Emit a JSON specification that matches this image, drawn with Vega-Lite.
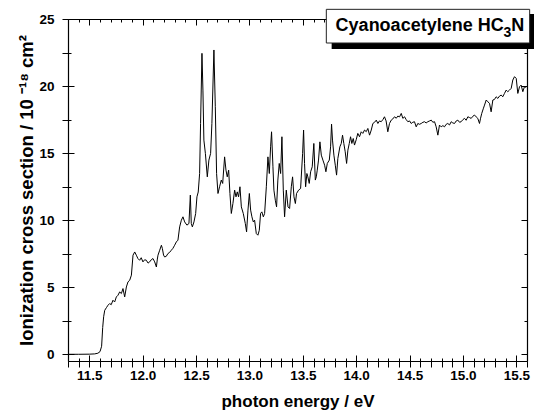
{
  "$schema": "https://vega.github.io/schema/vega-lite/v6.json",
  "width": 459,
  "height": 342,
  "autosize": {"type": "none"},
  "padding": {"left": 68, "top": 19, "right": 7, "bottom": 52},
  "background": "white",
  "config": {
    "view": {"stroke": null}
  },
  "data": {"values": [
      {"energy": 11.30, "sigma": 0.00}, {"energy": 11.40, "sigma": 0.00}, {"energy": 11.50, "sigma": 0.01},
      {"energy": 11.55, "sigma": 0.03}, {"energy": 11.58, "sigma": 0.08}, {"energy": 11.60, "sigma": 0.20},
      {"energy": 11.615, "sigma": 0.6}, {"energy": 11.625, "sigma": 2.0}, {"energy": 11.634, "sigma": 2.8},
      {"energy": 11.644, "sigma": 3.28}, {"energy": 11.66, "sigma": 3.48}, {"energy": 11.675, "sigma": 3.66},
      {"energy": 11.69, "sigma": 3.78}, {"energy": 11.705, "sigma": 3.70}, {"energy": 11.721, "sigma": 4.03},
      {"energy": 11.737, "sigma": 3.90}, {"energy": 11.753, "sigma": 4.28}, {"energy": 11.768, "sigma": 4.40},
      {"energy": 11.784, "sigma": 4.65}, {"energy": 11.80, "sigma": 4.53}, {"energy": 11.815, "sigma": 4.90},
      {"energy": 11.831, "sigma": 4.28}, {"energy": 11.847, "sigma": 5.02}, {"energy": 11.862, "sigma": 5.40},
      {"energy": 11.878, "sigma": 5.52}, {"energy": 11.894, "sigma": 5.90}, {"energy": 11.909, "sigma": 7.39},
      {"energy": 11.925, "sigma": 7.63}, {"energy": 11.940, "sigma": 7.39}, {"energy": 11.955, "sigma": 7.14},
      {"energy": 11.971, "sigma": 7.01}, {"energy": 11.986, "sigma": 7.20}, {"energy": 12.002, "sigma": 6.89},
      {"energy": 12.018, "sigma": 7.05}, {"energy": 12.034, "sigma": 7.01}, {"energy": 12.05, "sigma": 6.80},
      {"energy": 12.065, "sigma": 6.89}, {"energy": 12.08, "sigma": 7.05}, {"energy": 12.096, "sigma": 7.14},
      {"energy": 12.112, "sigma": 6.89}, {"energy": 12.128, "sigma": 6.51}, {"energy": 12.137, "sigma": 7.10},
      {"energy": 12.143, "sigma": 7.39}, {"energy": 12.159, "sigma": 7.76}, {"energy": 12.175, "sigma": 8.13},
      {"energy": 12.184, "sigma": 7.89}, {"energy": 12.195, "sigma": 7.40}, {"energy": 12.205, "sigma": 7.26},
      {"energy": 12.22, "sigma": 7.30}, {"energy": 12.236, "sigma": 7.51}, {"energy": 12.252, "sigma": 7.60},
      {"energy": 12.268, "sigma": 7.76}, {"energy": 12.283, "sigma": 7.90}, {"energy": 12.299, "sigma": 8.13},
      {"energy": 12.315, "sigma": 8.38}, {"energy": 12.330, "sigma": 8.51}, {"energy": 12.346, "sigma": 9.50},
      {"energy": 12.362, "sigma": 10.0}, {"energy": 12.377, "sigma": 10.25}, {"energy": 12.393, "sigma": 9.87},
      {"energy": 12.414, "sigma": 9.63}, {"energy": 12.433, "sigma": 9.75}, {"energy": 12.446, "sigma": 11.87},
      {"energy": 12.455, "sigma": 9.75}, {"energy": 12.465, "sigma": 9.50}, {"energy": 12.480, "sigma": 9.87},
      {"energy": 12.496, "sigma": 10.50}, {"energy": 12.508, "sigma": 11.74}, {"energy": 12.520, "sigma": 12.1},
      {"energy": 12.533, "sigma": 13.48}, {"energy": 12.542, "sigma": 17.2}, {"energy": 12.555, "sigma": 22.44},
      {"energy": 12.564, "sigma": 19.70}, {"energy": 12.573, "sigma": 15.97}, {"energy": 12.587, "sigma": 14.98},
      {"energy": 12.605, "sigma": 13.23}, {"energy": 12.620, "sigma": 14.48}, {"energy": 12.636, "sigma": 14.98},
      {"energy": 12.648, "sigma": 17.21}, {"energy": 12.667, "sigma": 22.69}, {"energy": 12.680, "sigma": 18.46},
      {"energy": 12.692, "sigma": 13.48}, {"energy": 12.705, "sigma": 11.99}, {"energy": 12.720, "sigma": 12.49},
      {"energy": 12.736, "sigma": 12.99}, {"energy": 12.749, "sigma": 12.74}, {"energy": 12.767, "sigma": 14.72},
      {"energy": 12.780, "sigma": 13.73}, {"energy": 12.792, "sigma": 13.23}, {"energy": 12.805, "sigma": 13.73},
      {"energy": 12.817, "sigma": 11.99}, {"energy": 12.830, "sigma": 10.50}, {"energy": 12.845, "sigma": 11.24},
      {"energy": 12.861, "sigma": 12.24}, {"energy": 12.874, "sigma": 11.74}, {"energy": 12.886, "sigma": 12.11},
      {"energy": 12.898, "sigma": 11.74}, {"energy": 12.911, "sigma": 12.49}, {"energy": 12.924, "sigma": 10.99},
      {"energy": 12.942, "sigma": 10.50}, {"energy": 12.961, "sigma": 9.75}, {"energy": 12.973, "sigma": 9.13},
      {"energy": 12.986, "sigma": 10.75}, {"energy": 12.999, "sigma": 11.99}, {"energy": 13.011, "sigma": 10.75},
      {"energy": 13.023, "sigma": 10.25}, {"energy": 13.036, "sigma": 9.87}, {"energy": 13.048, "sigma": 10.0},
      {"energy": 13.064, "sigma": 9.0}, {"energy": 13.079, "sigma": 8.88}, {"energy": 13.092, "sigma": 9.25},
      {"energy": 13.104, "sigma": 10.50}, {"energy": 13.116, "sigma": 10.62}, {"energy": 13.130, "sigma": 10.25},
      {"energy": 13.142, "sigma": 10.50}, {"energy": 13.158, "sigma": 12.49}, {"energy": 13.173, "sigma": 14.72},
      {"energy": 13.186, "sigma": 13.48}, {"energy": 13.198, "sigma": 15.47}, {"energy": 13.207, "sigma": 16.59},
      {"energy": 13.220, "sigma": 13.98}, {"energy": 13.229, "sigma": 12.24}, {"energy": 13.242, "sigma": 11.49},
      {"energy": 13.254, "sigma": 10.99}, {"energy": 13.266, "sigma": 12.99}, {"energy": 13.279, "sigma": 14.23},
      {"energy": 13.292, "sigma": 13.48}, {"energy": 13.304, "sigma": 16.22}, {"energy": 13.317, "sigma": 12.24},
      {"energy": 13.329, "sigma": 10.25}, {"energy": 13.345, "sigma": 12.24}, {"energy": 13.361, "sigma": 10.99},
      {"energy": 13.376, "sigma": 10.87}, {"energy": 13.392, "sigma": 12.49}, {"energy": 13.404, "sigma": 13.23},
      {"energy": 13.417, "sigma": 11.74}, {"energy": 13.430, "sigma": 11.24}, {"energy": 13.441, "sigma": 11.99},
      {"energy": 13.460, "sigma": 12.24}, {"energy": 13.479, "sigma": 12.36}, {"energy": 13.498, "sigma": 14.98},
      {"energy": 13.507, "sigma": 16.72}, {"energy": 13.516, "sigma": 14.23}, {"energy": 13.526, "sigma": 12.49},
      {"energy": 13.538, "sigma": 13.48}, {"energy": 13.547, "sigma": 13.23}, {"energy": 13.560, "sigma": 12.74},
      {"energy": 13.573, "sigma": 13.61}, {"energy": 13.588, "sigma": 13.98}, {"energy": 13.603, "sigma": 15.72},
      {"energy": 13.617, "sigma": 12.99}, {"energy": 13.626, "sigma": 13.23}, {"energy": 13.635, "sigma": 13.73},
      {"energy": 13.647, "sigma": 14.48}, {"energy": 13.660, "sigma": 15.84}, {"energy": 13.673, "sigma": 14.85},
      {"energy": 13.688, "sigma": 14.48}, {"energy": 13.704, "sigma": 14.10}, {"energy": 13.716, "sigma": 13.61},
      {"energy": 13.729, "sigma": 14.23}, {"energy": 13.748, "sigma": 14.48}, {"energy": 13.760, "sigma": 15.47},
      {"energy": 13.769, "sigma": 17.16}, {"energy": 13.778, "sigma": 15.97}, {"energy": 13.791, "sigma": 14.85},
      {"energy": 13.804, "sigma": 14.10}, {"energy": 13.816, "sigma": 13.36}, {"energy": 13.828, "sigma": 14.60},
      {"energy": 13.847, "sigma": 15.47}, {"energy": 13.860, "sigma": 15.72}, {"energy": 13.872, "sigma": 16.34},
      {"energy": 13.884, "sigma": 15.72}, {"energy": 13.897, "sigma": 15.10}, {"energy": 13.910, "sigma": 14.23},
      {"energy": 13.922, "sigma": 15.22}, {"energy": 13.935, "sigma": 15.72}, {"energy": 13.947, "sigma": 16.22},
      {"energy": 13.959, "sigma": 15.72}, {"energy": 13.972, "sigma": 16.09}, {"energy": 13.984, "sigma": 15.6},
      {"energy": 14.000, "sigma": 16.0}, {"energy": 14.015, "sigma": 16.47}, {"energy": 14.031, "sigma": 16.22},
      {"energy": 14.047, "sigma": 16.59}, {"energy": 14.062, "sigma": 16.47}, {"energy": 14.078, "sigma": 16.72},
      {"energy": 14.094, "sigma": 16.60}, {"energy": 14.109, "sigma": 16.84}, {"energy": 14.125, "sigma": 16.34},
      {"energy": 14.141, "sigma": 16.72}, {"energy": 14.156, "sigma": 17.21}, {"energy": 14.172, "sigma": 17.30},
      {"energy": 14.188, "sigma": 17.46}, {"energy": 14.203, "sigma": 17.21}, {"energy": 14.218, "sigma": 17.40},
      {"energy": 14.234, "sigma": 17.34}, {"energy": 14.250, "sigma": 17.50}, {"energy": 14.265, "sigma": 17.71},
      {"energy": 14.280, "sigma": 17.40}, {"energy": 14.296, "sigma": 16.59}, {"energy": 14.312, "sigma": 17.21},
      {"energy": 14.328, "sigma": 17.46}, {"energy": 14.343, "sigma": 17.55}, {"energy": 14.359, "sigma": 17.71},
      {"energy": 14.375, "sigma": 17.60}, {"energy": 14.390, "sigma": 17.76}, {"energy": 14.406, "sigma": 17.70},
      {"energy": 14.422, "sigma": 17.96}, {"energy": 14.437, "sigma": 17.59}, {"energy": 14.453, "sigma": 17.71},
      {"energy": 14.468, "sigma": 17.50}, {"energy": 14.484, "sigma": 17.34}, {"energy": 14.500, "sigma": 17.40},
      {"energy": 14.515, "sigma": 17.21}, {"energy": 14.530, "sigma": 17.30}, {"energy": 14.546, "sigma": 17.34},
      {"energy": 14.562, "sigma": 16.96}, {"energy": 14.577, "sigma": 17.21}, {"energy": 14.593, "sigma": 17.15},
      {"energy": 14.609, "sigma": 17.21}, {"energy": 14.625, "sigma": 17.30}, {"energy": 14.640, "sigma": 17.34},
      {"energy": 14.655, "sigma": 17.25}, {"energy": 14.671, "sigma": 17.34}, {"energy": 14.687, "sigma": 17.40},
      {"energy": 14.703, "sigma": 17.46}, {"energy": 14.718, "sigma": 17.30}, {"energy": 14.734, "sigma": 17.34},
      {"energy": 14.749, "sigma": 16.96}, {"energy": 14.765, "sigma": 16.34}, {"energy": 14.780, "sigma": 17.09},
      {"energy": 14.796, "sigma": 16.96}, {"energy": 14.812, "sigma": 17.05}, {"energy": 14.827, "sigma": 16.96},
      {"energy": 14.843, "sigma": 17.15}, {"energy": 14.858, "sigma": 17.21}, {"energy": 14.874, "sigma": 17.10},
      {"energy": 14.890, "sigma": 17.34}, {"energy": 14.905, "sigma": 17.25}, {"energy": 14.921, "sigma": 17.21},
      {"energy": 14.937, "sigma": 17.40}, {"energy": 14.952, "sigma": 17.46}, {"energy": 14.968, "sigma": 17.30},
      {"energy": 14.983, "sigma": 17.34}, {"energy": 15.000, "sigma": 17.50}, {"energy": 15.015, "sigma": 17.59},
      {"energy": 15.030, "sigma": 17.45}, {"energy": 15.046, "sigma": 17.71}, {"energy": 15.062, "sigma": 17.65},
      {"energy": 15.077, "sigma": 17.59}, {"energy": 15.093, "sigma": 17.75}, {"energy": 15.108, "sigma": 17.84},
      {"energy": 15.124, "sigma": 17.70}, {"energy": 15.139, "sigma": 17.59}, {"energy": 15.155, "sigma": 17.21},
      {"energy": 15.165, "sigma": 17.60}, {"energy": 15.176, "sigma": 17.96}, {"energy": 15.190, "sigma": 18.30},
      {"energy": 15.202, "sigma": 18.58}, {"energy": 15.218, "sigma": 18.96}, {"energy": 15.233, "sigma": 18.83},
      {"energy": 15.249, "sigma": 18.71}, {"energy": 15.264, "sigma": 18.08}, {"energy": 15.280, "sigma": 18.96},
      {"energy": 15.295, "sigma": 19.00}, {"energy": 15.311, "sigma": 19.20}, {"energy": 15.327, "sigma": 19.08},
      {"energy": 15.342, "sigma": 19.25}, {"energy": 15.358, "sigma": 19.33}, {"energy": 15.373, "sigma": 19.20},
      {"energy": 15.389, "sigma": 19.45}, {"energy": 15.405, "sigma": 19.70}, {"energy": 15.420, "sigma": 19.58},
      {"energy": 15.436, "sigma": 19.70}, {"energy": 15.452, "sigma": 19.83}, {"energy": 15.467, "sigma": 20.45},
      {"energy": 15.483, "sigma": 20.70}, {"energy": 15.499, "sigma": 20.57}, {"energy": 15.514, "sigma": 19.45},
      {"energy": 15.530, "sigma": 19.95}, {"energy": 15.545, "sigma": 20.07}, {"energy": 15.561, "sigma": 19.58},
      {"energy": 15.576, "sigma": 19.95}, {"energy": 15.592, "sigma": 19.90}
  ]},
  "layer": [
    {
      "mark": {"type": "line", "color": "black", "strokeWidth": 1},
      "encoding": {
        "x": {"field": "energy", "type": "quantitative",
          "scale": {"domain": [11.3, 15.6], "nice": false, "zero": false},
          "axis": {"orient": "bottom",
            "values": [11.3, 11.4, 11.5, 11.6, 11.7, 11.8, 11.9, 12.0, 12.1, 12.2, 12.3, 12.4, 12.5, 12.6, 12.7, 12.8, 12.9, 13.0, 13.1, 13.2, 13.3, 13.4, 13.5, 13.6, 13.7, 13.8, 13.9, 14.0, 14.1, 14.2, 14.3, 14.4, 14.5, 14.6, 14.7, 14.8, 14.9, 15.0, 15.1, 15.2, 15.3, 15.4, 15.5, 15.6],
            "labelExpr": "abs(datum.value * 2 - round(datum.value * 2)) < 0.001 ? format(datum.value, '.1f') : ''",
            "labelOverlap": false, "labelFlush": false,
            "grid": true, "gridColor": "#000000", "gridWidth": 1, "gridOpacity": 1,
            "gridDash": {"condition": {"test": "abs(datum.value * 2 - round(datum.value * 2)) < 0.001", "value": [6, 330]}, "value": [3, 336]},
            "tickColor": "#000000", "tickWidth": 1, "tickSize": 6,
            "domainColor": "#000000", "domainWidth": 1.2,
            "labelFont": "Liberation Sans", "labelFontWeight": "bold", "labelFontSize": 13.5, "labelColor": "black", "labelPadding": 1,
            "title": "photon energy / eV", "titleFont": "Liberation Sans", "titleFontWeight": "bold", "titleFontSize": 17, "titleColor": "black", "titlePadding": 12}},
        "y": {"field": "sigma", "type": "quantitative",
          "scale": {"domain": [-0.5, 25], "nice": false, "zero": false},
          "axis": {"orient": "left", "values": [0, 2.5, 5, 7.5, 10, 12.5, 15, 17.5, 20, 22.5, 25],
            "labelExpr": "datum.value % 5 === 0 ? datum.label : ''",
            "labelOverlap": false, "labelFlush": false,
            "grid": true, "gridColor": "#000000", "gridWidth": 1, "gridOpacity": 1,
            "gridDash": {"condition": {"test": "datum.value % 5 === 0", "value": [6, 447]}, "value": [3, 453]},
            "tickColor": "#000000", "tickWidth": 1, "tickSize": 6,
            "domainColor": "#000000", "domainWidth": 1.2,
            "labelFont": "Liberation Sans", "labelFontWeight": "bold", "labelFontSize": 13.5, "labelColor": "black", "labelPadding": 8,
            "title": "Ionization cross section  /  10 ⁻¹⁸  cm²", "titleFont": "Liberation Sans", "titleFontWeight": "bold", "titleFontSize": 18.5, "titleColor": "black", "titlePadding": 2}}
      }
    },
    {
      "mark": {"type": "point", "opacity": 0},
      "encoding": {
        "x": {"field": "energy", "type": "quantitative",
          "scale": {"domain": [11.3, 15.6], "nice": false, "zero": false},
          "axis": {"orient": "top", "values": [11.5, 12.0, 12.5, 13.0, 13.5, 14.0, 14.5, 15.0, 15.5],
            "grid": false, "ticks": false, "domainColor": "#000000", "domainWidth": 1.2, "labels": false, "title": null}},
        "y": {"field": "sigma", "type": "quantitative",
          "scale": {"domain": [-0.5, 25], "nice": false, "zero": false},
          "axis": {"orient": "right", "values": [0, 5, 10, 15, 20, 25],
            "grid": false, "ticks": false, "domainColor": "#000000", "domainWidth": 1.2, "labels": false, "title": null}}
      }
    },
    {
      "data": {"values": [{"x1": 13.77, "x2": 15.70, "y1": 25.37, "y2": 22.77}]},
      "mark": {"type": "rect", "color": "black"},
      "encoding": {
        "x": {"field": "x1", "type": "quantitative", "axis": null},
        "x2": {"field": "x2"},
        "y": {"field": "y1", "type": "quantitative", "axis": null},
        "y2": {"field": "y2"}
      }
    },
    {
      "data": {"values": [{"x1": 13.72, "x2": 15.625, "y1": 25.72, "y2": 23.21}]},
      "mark": {"type": "rect", "fill": "white", "stroke": "#222222", "strokeWidth": 1},
      "encoding": {
        "x": {"field": "x1", "type": "quantitative", "axis": null},
        "x2": {"field": "x2"},
        "y": {"field": "y1", "type": "quantitative", "axis": null},
        "y2": {"field": "y2"}
      }
    },
    {
      "data": {"values": [{"x": 13.807, "y": 24.13, "text": "Cyanoacetylene HC"}, {"x": 15.453, "y": 24.13, "text": "N"}]},
      "mark": {"type": "text", "font": "Liberation Sans", "fontWeight": "bold", "fontSize": 18, "color": "black", "align": "left", "baseline": "alphabetic"},
      "encoding": {
        "x": {"field": "x", "type": "quantitative", "axis": null},
        "y": {"field": "y", "type": "quantitative", "axis": null},
        "text": {"field": "text"}
      }
    },
    {
      "data": {"values": [{"x": 15.380, "y": 23.68, "text": "3"}]},
      "mark": {"type": "text", "font": "Liberation Sans", "fontWeight": "bold", "fontSize": 14, "color": "black", "align": "left", "baseline": "alphabetic"},
      "encoding": {
        "x": {"field": "x", "type": "quantitative", "axis": null},
        "y": {"field": "y", "type": "quantitative", "axis": null},
        "text": {"field": "text"}
      }
    }
  ],
  "resolve": {"axis": {"x": "independent", "y": "independent"}}
}
